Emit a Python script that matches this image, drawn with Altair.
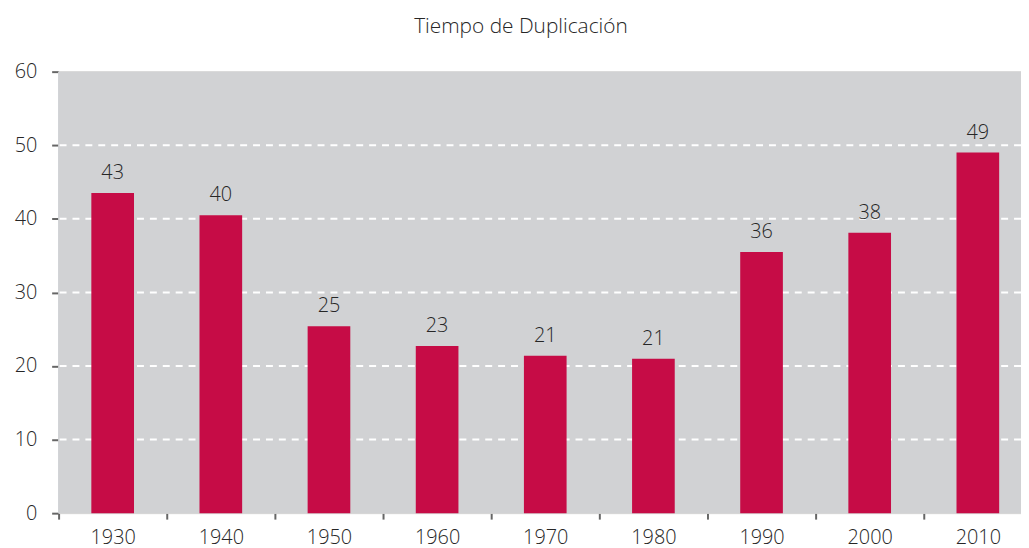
import altair as alt
import pandas as pd

years = ["1930", "1940", "1950", "1960", "1970", "1980", "1990", "2000", "2010"]
values = [43.5, 40.5, 25.4, 22.7, 21.4, 21.0, 35.5, 38.1, 49.0]
labels = ["43", "40", "25", "23", "21", "21", "36", "38", "49"]
grid_values = [10, 20, 30, 40, 50]
y_ticks = [0, 10, 20, 30, 40, 50, 60]

df = pd.DataFrame({"year": years, "value": values, "label": labels})
gdf = pd.DataFrame({"g": grid_values})

FONT = "Open Sans"
TXT = "#262626"
BAR = "#c60c46"
BG = "#d1d2d4"
FS = 20

x_enc = alt.X(
    "year:N",
    sort=years,
    title=None,
    scale=alt.Scale(paddingInner=0, paddingOuter=0, range=[0, 981]),
    axis=alt.Axis(
        domain=False,
        tickBand="extent",
        tickSize=6,
        tickWidth=2,
        tickColor="#666666",
        labelAngle=0,
        labelFont=FONT,
        labelFontSize=FS,
        labelFontWeight=300,
        labelColor=TXT,
        labelPadding=9,
        grid=False,
    ),
)
y_scale = alt.Scale(domain=[0, 60], nice=False)

bg = alt.Chart(gdf).mark_rect(color=BG).encode(
    x=alt.value(0), x2=alt.value(970), y=alt.value(0), y2=alt.value(445)
)

grid = alt.Chart(gdf).mark_rule(
    color="white", strokeWidth=2, strokeDash=[7, 6]
).encode(y=alt.Y("g:Q", scale=y_scale))

bars = alt.Chart(df).mark_bar(color=BAR, width=43).encode(
    x=x_enc,
    y=alt.Y(
        "value:Q",
        scale=y_scale,
        title=None,
        axis=alt.Axis(
            values=y_ticks,
            domain=False,
            grid=False,
            tickSize=7,
            tickWidth=2,
            tickColor="#666666",
            labelFont=FONT,
            labelFontSize=FS,
            labelFontWeight=300,
            labelColor=TXT,
            labelPadding=15,
        ),
    ),
)

text = alt.Chart(df).mark_text(
    font=FONT, fontSize=FS, fontWeight=300, color=TXT, baseline="bottom", dy=-10
).encode(x=alt.X("year:N", sort=years), y=alt.Y("value:Q", scale=y_scale), text="label:N")

chart = (
    alt.layer(bg, grid, bars, text)
    .properties(
        width=970,
        height=445,
        title=alt.TitleParams(
            "Tiempo de Duplicación",
            font=FONT,
            fontSize=21,
            fontWeight=300,
            color=TXT,
            anchor="middle",
            dx=-19,
            offset=25,
        ),
        autosize=alt.AutoSizeParams(type="none"),
        padding={"left": 51, "top": 62, "right": 0, "bottom": 38},
    )
    .configure_view(fill=BG, stroke="transparent", strokeWidth=0)
    .configure(background="white")
)

chart.save("out.html", embed_options={"renderer": "svg", "actions": False})
